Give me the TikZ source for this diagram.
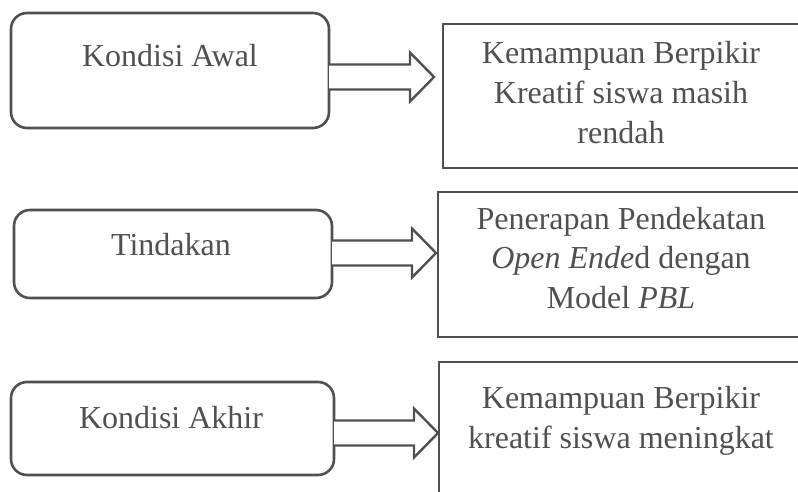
\documentclass[tikz,border=0pt]{standalone}
\usepackage{fontspec}
\setmainfont{Liberation Serif}
\usetikzlibrary{calc}
\definecolor{ink}{HTML}{505050}
\newcommand{\blockarrow}[4]{%
 \draw[barrow] let \p1=(#1.east), \p2=(#2.west), \p3=(0,#3) in
 (\x1,\y3+12.5pt) -- (\x2-#4pt-24pt,\y3+12.5pt) -- (\x2-#4pt-24pt,\y3+24.5pt)
 -- (\x2-#4pt,\y3) -- (\x2-#4pt-24pt,\y3-24.5pt) -- (\x2-#4pt-24pt,\y3-12.5pt)
 -- (\x1,\y3-12.5pt);}
\begin{document}
\begin{tikzpicture}[x=1pt,y=-1pt,
 rbox/.style={draw=ink, line width=2.6pt, rounded corners=16pt, inner sep=0pt, outer sep=0pt},
 sbox/.style={draw=ink, line width=2.6pt, inner sep=0pt, outer sep=0pt},
 txt/.style={text=ink, font=\fontsize{32}{39.5}\selectfont, align=center, inner sep=0pt, anchor=base},
 barrow/.style={draw=ink, line width=2.4pt, fill=white, line join=miter}]
\useasboundingbox (0,0) rectangle (798,492);
\clip (0,0) rectangle (798,492);
% left rounded boxes
\node[rbox, minimum width=318pt, minimum height=115pt] (k1) at (170,70.5) {};
\node[rbox, minimum width=318pt, minimum height=88pt] (k2) at (173,254) {};
\node[rbox, minimum width=323pt, minimum height=93pt] (k3) at (172.5,428.5) {};
% right boxes (cut off by the page edge)
\node[sbox, minimum width=367pt, minimum height=144pt] (ra) at (626.5,96) {};
\node[sbox, minimum width=372pt, minimum height=145pt] (rb) at (624,264.5) {};
\node[sbox, minimum width=371pt, minimum height=158pt] (rc) at (624.5,441) {};
% block arrows
\blockarrow{k1}{ra}{77}{9}
\blockarrow{k2}{rb}{253}{2}
\blockarrow{k3}{rc}{433}{1}
% texts (base = baseline of the last line)
\node[txt] (t1) at (170,67) {Kondisi Awal};
\node[txt] (t2) at (171,255) {Tindakan};
\node[txt] (t3) at (171,428) {Kondisi Akhir};
\node[txt] (ta) at (621,143) {Kemampuan Berpikir\\Kreatif siswa masih\\rendah};
\node[txt] (tb) at (621,308) {Penerapan Pendekatan\\\textit{Open Ende}d dengan\\Model \textit{PBL}};
\node[txt] (tc) at (621,448) {Kemampuan Berpikir\\kreatif siswa meningkat};
\end{tikzpicture}
\end{document}
